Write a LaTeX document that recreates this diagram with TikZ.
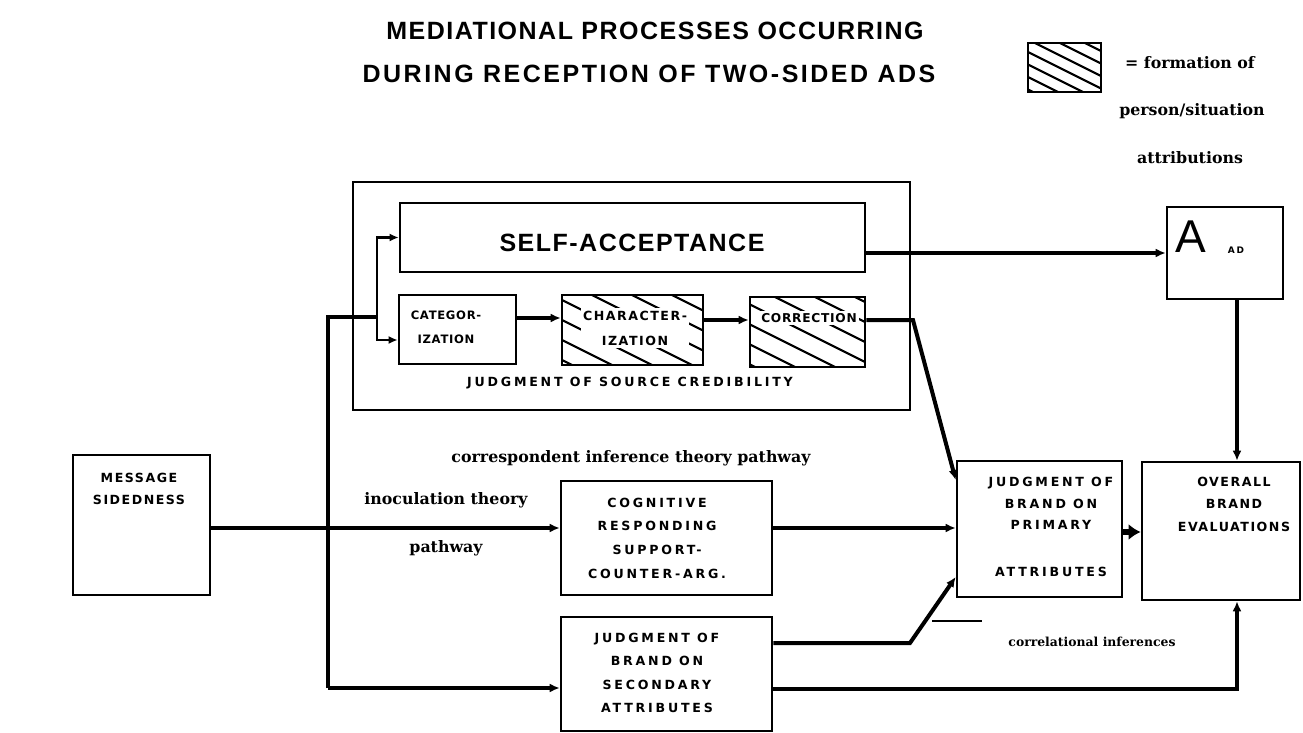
\documentclass[tikz,border=0pt]{standalone}
\usepackage{fontspec}
\setmainfont{Liberation Sans}
\newfontfamily\labf[LetterSpace=22]{DejaVu Sans}
\newfontfamily\labm[LetterSpace=12]{DejaVu Sans}
\newfontfamily\labs[LetterSpace=6]{DejaVu Sans}
\newfontfamily\titf[LetterSpace=6]{Liberation Sans}
\newfontfamily\titg[LetterSpace=10]{Liberation Sans}
\newfontfamily\serf{DejaVu Serif}
\usetikzlibrary{arrows.meta,fit,calc}
\begin{document}
\begin{tikzpicture}[x=0.5pt,y=-0.5pt,
  box/.style={draw, line width=1.3pt, inner sep=0pt, rectangle},
  outerbox/.style={draw, line width=1pt, inner sep=0pt, rectangle},
  lab/.style={font=\labf\bfseries\fontsize{6.3}{11}\selectfont, align=center, inner sep=0pt},
  hlab/.style={lab, fill=white, inner sep=1.2pt},
  conn/.style={line width=2pt, -{Latex[length=5pt,width=4.5pt]}},
  thinconn/.style={line width=1.4pt, -{Latex[length=4.5pt,width=4pt]}},
  bigconn/.style={line width=3pt, -{Latex[length=6pt,width=8pt]}},
  wire/.style={line width=2pt},
  hatchline/.style={line width=1.1pt},
  serlab/.style={font=\serf\bfseries\fontsize{7.9}{9}\selectfont, inner sep=0pt},
  titlelab/.style={font=\titf\bfseries\fontsize{12.5}{14}\selectfont, inner sep=0pt},
]
\useasboundingbox (0,0) rectangle (1303,733);

% title
\node[titlelab] (title1) at (655,31) {MEDIATIONAL PROCESSES OCCURRING};
\node[titlelab, font=\titg\bfseries\fontsize{12.5}{14}\selectfont] (title2) at (649,74) {DURING RECEPTION OF TWO-SIDED ADS};

% legend
\begin{scope}
  \clip (1028,43) rectangle (1101,92);
  \foreach \s in {0,...,7} \draw[hatchline] ({935+\s*25},43) -- ++(200,100);
\end{scope}
\node[box, fit={(1028,43) (1101,92)}] (legend) {};
\node[serlab] (leg1) at (1190,63) {= formation of};
\node[serlab] (leg2) at (1192,111) {person/situation};
\node[serlab] (leg3) at (1190,158) {attributions};

% boxes
\node[outerbox, fit={(353,182) (910,410)}] (src) {};
\node[box, fit={(400,203) (865,272)}] (self) {};
\node[box, fit={(399,295) (516,364)}] (cat) {};
\begin{scope}
  \clip (562,295) rectangle (703,365);
  \foreach \s in {0,...,6} \draw[hatchline] ({432+\s*40},295) -- ++(300,150);
\end{scope}
\node[box, fit={(562,295) (703,365)}] (char) {};
\begin{scope}
  \clip (750,297) rectangle (865,367);
  \foreach \s in {0,...,6} \draw[hatchline] ({615+\s*40},297) -- ++(300,150);
\end{scope}
\node[box, fit={(750,297) (865,367)}] (corr) {};
\node[box, fit={(1167,207) (1283,299)}] (ad) {};
\node[box, fit={(73,455) (210,595)}] (msg) {};
\node[box, fit={(561,481) (772,595)}] (cog) {};
\node[box, fit={(561,617) (772,731)}] (sec) {};
\node[box, fit={(957,461) (1122,597)}] (prim) {};
\node[box, fit={(1142,462) (1300,600)}] (ov) {};

% box texts
\node[titlelab] (tself) at (632,243) {SELF-ACCEPTANCE};
\node[lab, font=\labs\bfseries\fontsize{5.8}{12}\selectfont] (tcat) at (446,327) {CATEGOR-\\IZATION};
\node[hlab, font=\labm\bfseries\fontsize{6.3}{12.5}\selectfont] (tchar) at (635,328) {CHARACTER-\\IZATION};
\node[hlab, font=\labs\bfseries\fontsize{6.1}{11}\selectfont] (tcorr) at (809,318) {CORRECTION};
\node[lab] (tsrc) at (630,383) {JUDGMENT OF SOURCE CREDIBILITY};
\node[lab, font=\labm\bfseries\fontsize{6.3}{11}\selectfont] (tmsg) at (139,489) {MESSAGE\\SIDEDNESS};
\node[lab, font=\labf\bfseries\fontsize{6.3}{11.85}\selectfont] (tcog) at (657,538) {COGNITIVE\\RESPONDING\\SUPPORT-\\COUNTER-ARG.};
\node[lab, font=\labf\bfseries\fontsize{6.3}{11.65}\selectfont] (tsec) at (657,673) {JUDGMENT OF\\BRAND ON\\SECONDARY\\ATTRIBUTES};
\node[lab, font=\labf\bfseries\fontsize{6.3}{10.75}\selectfont] (tprim) at (1051,527) {JUDGMENT OF\\BRAND ON\\PRIMARY\\[12.75pt]ATTRIBUTES};
\node[lab, font=\labm\bfseries\fontsize{6.3}{11.25}\selectfont] (tov) at (1234,504) {OVERALL\\BRAND\\EVALUATIONS};
\node[inner sep=0pt, font=\fontsize{23}{24}\selectfont] (tA) at (1191,237) {A};
\node[lab, font=\labf\bfseries\fontsize{4.5}{5}\selectfont] (tAD) at (1236,250) {AD};

% free labels
\node[serlab] (lcorr) at (631,458) {correspondent inference theory pathway};
\node[serlab] (linoc) at (446,500) {inoculation theory};
\node[serlab] (lpath) at (446,548) {pathway};
\node[serlab, font=\serf\bfseries\fontsize{6.2}{7}\selectfont] (lcorrel) at (1092,642) {correlational inferences};

% coordinates
\coordinate (j0) at (328,317);
\coordinate (j1) at (328,528);
\coordinate (j2) at (328,688);
\coordinate (jb) at (377,317);
\coordinate (jc) at (377,340);
\coordinate (k1) at (913,320);
\coordinate (k2) at (910,643);
\coordinate (v) at (1237,0);
\coordinate (c1) at (932,621);
\coordinate (c2) at (982,621);
\coordinate (r1) at (0,318);
\coordinate (r2) at (0,320);
\coordinate (r3) at (0,532);
\coordinate (r4) at (0,689);
\coordinate (p1) at (0,480);
\coordinate (p2) at (0,577);

% connectors
\draw[conn] (msg.east|-j1) -- (cog.west|-j1);
\draw[wire] (j2) -- (j0) -- (jb);
\draw[conn] (j2) -- (sec.west|-j2);
\draw[thinconn] (jb) |- (self.west);
\draw[thinconn] (jb) -- (jc) -- (cat.west|-jc);
\draw[conn] (cat.east|-r1) -- (char.west|-r1);
\draw[conn] (char.east|-r2) -- (corr.west|-r2);
\draw[conn] (corr.east|-r2) -- (k1) -- (prim.west|-p1);
\draw[conn] (self.east|-ad.west) -- (ad.west);
\draw[conn] (ad.south-|v) -- (ov.north-|v);
\draw[conn] (cog.east|-j1) -- (prim.west|-j1);
\draw[bigconn] (prim.east|-r3) -- (ov.west|-r3);
\draw[conn] (sec.east|-k2) -- (k2) -- (prim.west|-p2);
\draw[conn] (sec.east|-r4) -| (ov.south-|v);
\draw[line width=1pt] (c1) -- (c2);
\end{tikzpicture}
\end{document}
